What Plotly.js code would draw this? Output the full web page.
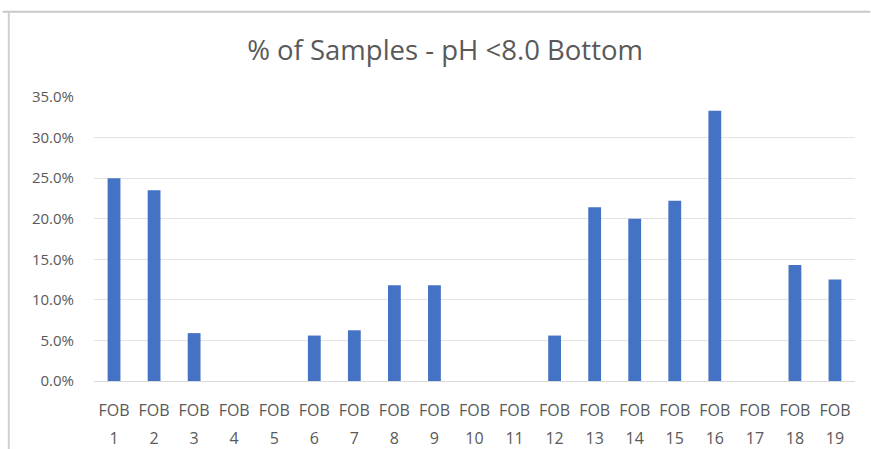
<!DOCTYPE html>
<html>
<head>
<meta charset="utf-8">
<script src="https://cdn.plot.ly/plotly-3.0.1.min.js"></script>
<style>html,body{margin:0;padding:0;background:#fff;}#chart{width:871px;height:449px;}</style>
</head>
<body>
<div id="chart"></div>
<script>
const categories = ["FOB 1","FOB 2","FOB 3","FOB 4","FOB 5","FOB 6","FOB 7","FOB 8","FOB 9","FOB 10","FOB 11","FOB 12","FOB 13","FOB 14","FOB 15","FOB 16","FOB 17","FOB 18","FOB 19"];
const pctBelow8 = [0.250,0.235,0.059,0,0,0.056,0.0625,0.118,0.118,0,0,0.056,0.214,0.200,0.222,0.333,0,0.143,0.125];
const chartTitle = "% of Samples - pH <8.0 Bottom";

const font = "'Open Sans', sans-serif";
const tickText = categories.map(c => {
  const parts = c.split(' ');
  return '<span style="font-size:16px">' + parts[0] + '</span><br><span style="font-size:16px">' + parts[1] + '</span>';
});

Plotly.newPlot('chart', [{
  type: 'bar',
  x: categories,
  y: pctBelow8,
  marker: {color: '#4472c4'},
  hoverinfo: 'skip'
}], {
  width: 871, height: 449,
  margin: {l: 94, r: 16, t: 97, b: 68},
  paper_bgcolor: '#ffffff', plot_bgcolor: '#ffffff',
  bargap: 0.68,
  showlegend: false,
  title: {text: chartTitle, x: 0.511, xanchor: 'center', y: 0.888, yanchor: 'middle',
          font: {family: font, size: 27.5, color: '#595959'}},
  xaxis: {type: 'category', tickmode: 'array', tickvals: categories, ticktext: tickText,
          showgrid: false, showline: true, linecolor: '#d9d9d9', linewidth: 1,
          ticks: '', ticklabelstandoff: 9,
          tickfont: {family: font, size: 21, color: '#595959'}, fixedrange: true},
  yaxis: {range: [0, 0.35], dtick: 0.05, tick0: 0, tickformat: '.1%', showgrid: true,
          gridcolor: '#e3e3e3', gridwidth: 1, zeroline: false, showline: false, ticks: '',
          ticklabelstandoff: 19,
          tickfont: {family: font, size: 15, color: '#595959'}, fixedrange: true},
  shapes: [
    {type: 'line', xref: 'paper', yref: 'paper', x0: -0.12, x1: 1.02, y0: 1.3, y1: 1.3,
     line: {color: '#c8c8c8', width: 2}},
    {type: 'line', xref: 'paper', yref: 'paper', x0: -0.112, x1: -0.112, y0: -0.3, y1: 1.3,
     line: {color: '#d0d0d0', width: 2}}
  ]
}, {displayModeBar: false, staticPlot: true});
</script>
</body>
</html>
